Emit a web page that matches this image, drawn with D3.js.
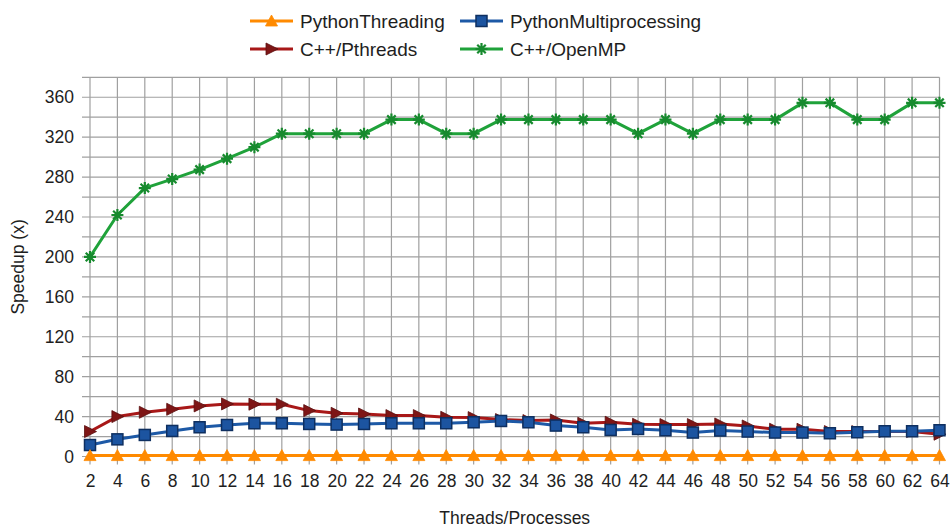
<!DOCTYPE html>
<html>
<head>
<meta charset="utf-8">
<script src="https://cdn.jsdelivr.net/npm/d3@7"></script>
<style>
  html, body { margin: 0; padding: 0; background: #fff; }
  svg { display: block; font-family: "Liberation Sans", Arial, sans-serif; }
</style>
</head>
<body>
<svg id="chart" width="952" height="527"></svg>
<script>
const threads = [2,4,6,8,10,12,14,16,18,20,22,24,26,28,30,32,34,36,38,40,42,44,46,48,50,52,54,56,58,60,62,64];
const pythonThreading = [0.9,0.9,0.9,0.9,0.9,0.9,0.9,0.9,0.9,0.9,0.9,0.9,0.9,0.9,0.9,0.9,0.9,0.9,0.9,0.9,0.9,0.9,0.9,0.9,0.9,0.9,0.9,0.9,0.9,0.9,0.9,0.9];
const pythonMultiprocessing = [11.5,17.2,21.6,25.6,29.3,31.6,33.3,33.3,32.6,32,32.6,33.3,33.3,33.3,34.3,35.6,34.3,31,29.3,26.6,27.6,26.3,24,26,25,24,24,23.3,24.3,25.3,25.3,26.3];
const cppPthreads = [25,40,44.3,47.3,50.7,52.7,52.4,52.4,46,43.3,42.6,41,41,39.3,39,37,36,36.6,33.3,34.3,32.3,32,32,32.6,30.6,27.3,27.3,25,25,25,25,22.3];
const cppOpenMP = [200,242,269,278,287.5,298.5,310,323.5,323.5,323.5,323.5,337.6,337.6,323.5,323.5,337.6,337.6,337.6,337.6,337.6,323.5,337.6,323.5,337.6,337.6,337.6,354.4,354.4,337.6,337.6,354.4,354.4];
const yTicks = [0,40,80,120,160,200,240,280,320,360];
const yMinor = [0,20,40,60,80,100,120,140,160,180,200,220,240,260,280,300,320,340,360,380];

const seriesNames = ["PythonThreading","PythonMultiprocessing","C++/Pthreads","C++/OpenMP"];
const seriesValues = [pythonThreading, pythonMultiprocessing, cppPthreads, cppOpenMP];
const seriesColors = ["#ff8a00","#1d59a6","#a81818","#1fa23a"];
const markerFill = ["#ff8a00","#1c54a0","#7e1616","#1fa23a"];
const seriesStroke = ["#ff8a00","#0e2f60","#5a0f0f","#178a2e"];
const seriesMarkers = ["triangleUp","square","triangleRight","star"];

const svg = d3.select("#chart");
const mLeft = 90, mRight = 939.5, mTop = 77.3, mBottom = 456.5;

const x = d3.scalePoint().domain(threads).range([mLeft, mRight]);
const y = d3.scaleLinear().domain([0, 380]).range([mBottom, mTop]);

const textColor = "#1e1e1e";
const gridColor = "#a0a0a0";

// grid
const grid = svg.append("g");
grid.selectAll("line.h").data(yMinor).enter().append("line")
  .attr("x1", mLeft - 8).attr("x2", mRight)
  .attr("y1", d => y(d)).attr("y2", d => y(d))
  .attr("stroke", gridColor).attr("stroke-width", 1.2);
grid.selectAll("line.v").data(threads).enter().append("line")
  .attr("x1", d => x(d)).attr("x2", d => x(d))
  .attr("y1", mTop).attr("y2", mBottom + 8)
  .attr("stroke", gridColor).attr("stroke-width", 1.2);

// y axis labels
const yAxis = d3.axisLeft(y).tickValues(yTicks).tickSize(0).tickPadding(16);
const ya = svg.append("g").attr("transform", `translate(${mLeft},0)`).call(yAxis);
ya.select(".domain").remove();
ya.selectAll("text").attr("font-size", 17.5).attr("fill", textColor)
  .attr("font-family", "'Liberation Sans', Arial, sans-serif");

// x axis labels
const xAxis = d3.axisBottom(x).tickSize(0).tickPadding(18);
const xa = svg.append("g").attr("transform", `translate(0,${mBottom})`).call(xAxis);
xa.select(".domain").remove();
xa.selectAll("text").attr("font-size", 17.5).attr("fill", textColor)
  .attr("font-family", "'Liberation Sans', Arial, sans-serif");

// axis titles
svg.append("text").attr("x", (mLeft + mRight) / 2).attr("y", 524)
  .attr("text-anchor", "middle").attr("font-size", 17.5).attr("fill", textColor)
  .text("Threads/Processes");
svg.append("text").attr("transform", `translate(24,${(mTop + mBottom) / 2}) rotate(-90)`)
  .attr("text-anchor", "middle").attr("font-size", 17.5).attr("fill", textColor)
  .text("Speedup (x)");

// marker drawing
function drawMarker(g, type, cx, cy, fill, stroke) {
  if (type === "triangleUp") {
    g.append("path").attr("d", `M${cx},${cy-6}L${cx+6},${cy+5}L${cx-6},${cy+5}Z`)
      .attr("fill", fill).attr("stroke", stroke).attr("stroke-width", 0.8);
  } else if (type === "square") {
    g.append("rect").attr("x", cx-5.5).attr("y", cy-5.5).attr("width", 11).attr("height", 11)
      .attr("fill", fill).attr("stroke", stroke).attr("stroke-width", 1.5);
  } else if (type === "triangleRight") {
    g.append("path").attr("d", `M${cx+6.5},${cy}L${cx-5.5},${cy-6}L${cx-5.5},${cy+6}Z`)
      .attr("fill", fill).attr("stroke", stroke).attr("stroke-width", 0.8);
  } else if (type === "star") {
    const r = 6;
    let d = "";
    for (let k = 0; k < 4; k++) {
      const a = k * Math.PI / 4;
      d += `M${cx + r*Math.cos(a)},${cy + r*Math.sin(a)}L${cx - r*Math.cos(a)},${cy - r*Math.sin(a)}`;
    }
    g.append("path").attr("d", d).attr("stroke", stroke).attr("stroke-width", 2.2).attr("fill", "none");
  }
}

// lines
const line = d3.line().x((d, i) => x(threads[i])).y(d => y(d));
const drawOrder = [3, 2, 1, 0];
drawOrder.forEach(si => {
  const g = svg.append("g");
  g.append("path").datum(seriesValues[si]).attr("d", line)
    .attr("fill", "none").attr("stroke", seriesColors[si]).attr("stroke-width", 3)
    .attr("stroke-linejoin", "round");
  seriesValues[si].forEach((v, i) => {
    drawMarker(g, seriesMarkers[si], x(threads[i]), y(v), markerFill[si], seriesStroke[si]);
  });
});

// legend
const legendPos = [[250, 21], [460, 21], [250, 49], [460, 49]];
seriesNames.forEach((name, si) => {
  const [lx, ly] = legendPos[si];
  const g = svg.append("g");
  g.append("line").attr("x1", lx).attr("x2", lx + 43).attr("y1", ly).attr("y2", ly)
    .attr("stroke", seriesColors[si]).attr("stroke-width", 3);
  drawMarker(g, seriesMarkers[si], lx + 21.5, ly, markerFill[si], seriesStroke[si]);
  g.append("text").attr("x", lx + 50).attr("y", ly + 6.5).attr("font-size", 19)
    .attr("fill", textColor).text(name);
});
</script>
</body>
</html>
